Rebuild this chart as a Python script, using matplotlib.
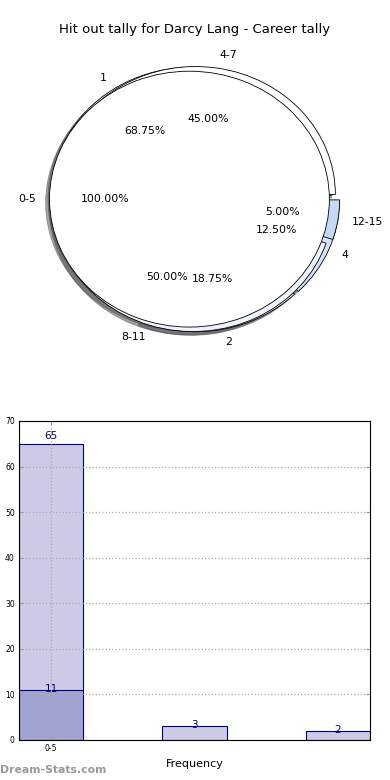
import numpy as np
import matplotlib
matplotlib.use('Agg')
import matplotlib.pyplot as plt

# ---- data ----
ring1_labels = ['0-5']
ring1_values = [65]
ring2_labels = ['1', '2', '4']
ring2_values = [11, 3, 2]
ring3_labels = ['4-7', '8-11', '12-15']
ring3_values = [9, 10, 1]

bar_values = [65, 3, 2]
bar_inner = [11]
bar_ticklabels = ['0-5']

title = "Hit out tally for Darcy Lang - Career tally"

fig = plt.figure(figsize=(3.9, 7.8), dpi=100)

# ---- pie (three layered pies, old style) ----
ax1 = fig.add_axes([0.0505, 0.5397, 0.897, 0.410])
expl = 0.037
txt = dict(fontsize=7.8)
edge = dict(edgecolor='black', linewidth=0.6)

ax1.pie(ring2_values, labels=ring2_labels, explode=[expl] * 3,
        colors=['white', '#e6eefb', '#d4e2f9'], autopct='%1.2f%%',
        shadow=True, startangle=0, textprops=txt, wedgeprops=edge)
ax1.pie(ring3_values, labels=ring3_labels, explode=[expl] * 3,
        colors=['white', '#eef3fc', '#c6d8f8'], autopct='%1.2f%%',
        shadow=True, startangle=0, textprops=txt, wedgeprops=edge)
ax1.pie(ring1_values, labels=ring1_labels, explode=[expl],
        colors=['white'], autopct='%1.2f%%',
        shadow=True, startangle=0, textprops=txt, wedgeprops=edge)
ax1.set_aspect('auto')
ax1.set_xlim(-1.25, 1.25)
ax1.set_ylim(-1.25, 1.25)
ax1.axis('off')

fig.text(0.5, 0.962, title, ha='center', va='center', fontsize=9.5)

# ---- bars ----
ax2 = fig.add_axes([0.0487, 0.0513, 0.9, 0.409])
x = np.arange(len(bar_values))
w = 0.45
ax2.bar(x, bar_values, width=w, color='#ccccE6', edgecolor='navy', linewidth=0.8, zorder=2)
ax2.bar(x[:1], bar_inner, width=w, color='#a3a3d1', edgecolor='navy', linewidth=0.8, zorder=2)

ax2.text(x[0], bar_values[0] + 0.5, str(bar_values[0]), ha='center', va='bottom',
         color='navy', fontsize=7.5, zorder=4)
ax2.text(x[0], bar_inner[0] + 0.2, str(bar_inner[0]), ha='center', va='center',
         color='navy', fontsize=7.5, zorder=4)
for xi, v in zip(x[1:], bar_values[1:]):
    ax2.text(xi, v + 0.3, str(v), ha='center', va='center',
             color='navy', fontsize=7.5, zorder=4)

ax2.set_xlim(-w / 2, x[-1] + w / 2)
ax2.set_ylim(0, 70)
ax2.set_yticks(np.arange(0, 71, 10))
ax2.set_xticks([0])
ax2.set_xticklabels(bar_ticklabels)
ax2.tick_params(axis='both', labelsize=5.5, direction='in', length=3,
                color='#999999', top=True, right=True, pad=3)
ax2.grid(True, linestyle=':', color='#aaaaaa', linewidth=0.9, zorder=3)
ax2.set_axisbelow(False)
for s in ax2.spines.values():
    s.set_linewidth(0.8)
    s.set_zorder(5)
ax2.set_xlabel('Frequency', fontsize=8)

fig.text(0.0, 0.013, 'Dream-Stats.com', color='#999999', fontsize=7.8,
         fontweight='bold', ha='left', va='center')

fig.savefig('out.png', dpi=100)
